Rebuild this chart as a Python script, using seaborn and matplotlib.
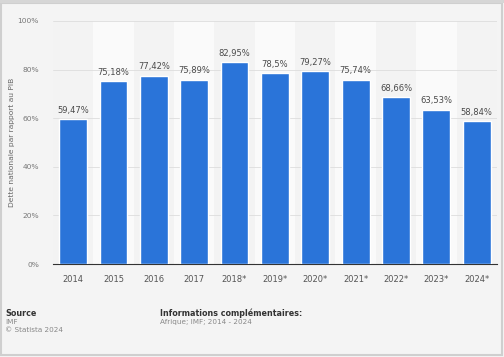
import pandas as pd
import matplotlib.pyplot as plt
import matplotlib.patches as mpatches
import seaborn as sns

# Data
years = ['2014', '2015', '2016', '2017', '2018*', '2019*', '2020*',
         '2021*', '2022*', '2023*', '2024*']
debt_pct = [59.47, 75.18, 77.42, 75.89, 82.95, 78.5, 79.27,
            75.74, 68.66, 63.53, 58.84]
value_labels = ['59,47%', '75,18%', '77,42%', '75,89%', '82,95%', '78,5%',
                '79,27%', '75,74%', '68,66%', '63,53%', '58,84%']
y_ticks = [0, 20, 40, 60, 80, 100]

BAR_COLOR = '#2a74d9'
TEXT_GREY = '#666666'
BG = '#f4f4f4'


def main():
    sns.set_style('white')
    plt.rcParams['font.family'] = ['DejaVu Sans']

    df = pd.DataFrame({'Year': years, 'Debt': debt_pct})

    fig = plt.figure(figsize=(5.04, 3.57), dpi=100)
    fig.patch.set_facecolor(BG)
    ax = fig.add_axes([0.105, 0.2605, 0.881, 0.681])
    ax.set_facecolor('#f3f3f3')

    # alternating column bands
    for i in range(len(years)):
        if i % 2 == 1:
            ax.axvspan(i - 0.5, i + 0.5, color='#fafafa', zorder=0, lw=0)

    sns.barplot(data=df, x='Year', y='Debt', color=BAR_COLOR, width=0.69,
                saturation=1, ax=ax, zorder=3)

    for i, (v, lab) in enumerate(zip(debt_pct, value_labels)):
        ax.text(i, v + 1.8, lab, ha='center', va='bottom', fontsize=6.0,
                color='#4a4a4a', zorder=4)

    ax.set_ylim(0, 100)
    ax.set_xlim(-0.5, len(years) - 0.5)
    ax.set_yticks(y_ticks)
    ax.set_yticklabels([f'{t}%' for t in y_ticks])
    ax.yaxis.grid(True, color='#dddddd', lw=0.6, zorder=1)
    ax.set_axisbelow(True)
    ax.tick_params(axis='y', length=0, labelsize=5.4, labelcolor='#777777', pad=10)
    ax.tick_params(axis='x', length=0, labelsize=6.0, labelcolor='#555555', pad=8)
    ax.set_xlabel('')
    ax.set_ylabel('Dette nationale par rapport au PIB', fontsize=5.4,
                  color=TEXT_GREY)
    ax.yaxis.set_label_coords(-0.086, 0.5)
    for side in ['top', 'right', 'left']:
        ax.spines[side].set_visible(False)
    ax.spines['bottom'].set_color('#333333')
    ax.spines['bottom'].set_linewidth(0.8)

    # footer
    fig.text(5 / 504, 1 - 313 / 357, 'Source', fontsize=5.8, fontweight='bold',
             color='#333333', va='center')
    fig.text(5 / 504, 1 - 322 / 357, 'IMF', fontsize=5.2, color='#888888', va='center')
    fig.text(5 / 504, 1 - 330 / 357, '© Statista 2024', fontsize=5.2,
             color='#888888', va='center')
    fig.text(160 / 504, 1 - 313 / 357, 'Informations complémentaires:', fontsize=5.8,
             fontweight='bold', color='#333333', va='center')
    fig.text(160 / 504, 1 - 322 / 357, 'Afrique; IMF; 2014 - 2024', fontsize=5.2,
             color='#888888', va='center')

    # outer frame
    fig.patches.append(mpatches.Rectangle((0.002, 0.006), 0.994, 0.986,
                                          transform=fig.transFigure, fill=False,
                                          edgecolor='#cfcfcf', lw=1.5))
    fig.patches.append(mpatches.Rectangle((0, 0.992), 1, 0.008,
                                          transform=fig.transFigure,
                                          color='#d6d6d6', lw=0))

    fig.savefig('out.png', dpi=100, facecolor=fig.get_facecolor())


if __name__ == '__main__':
    main()
